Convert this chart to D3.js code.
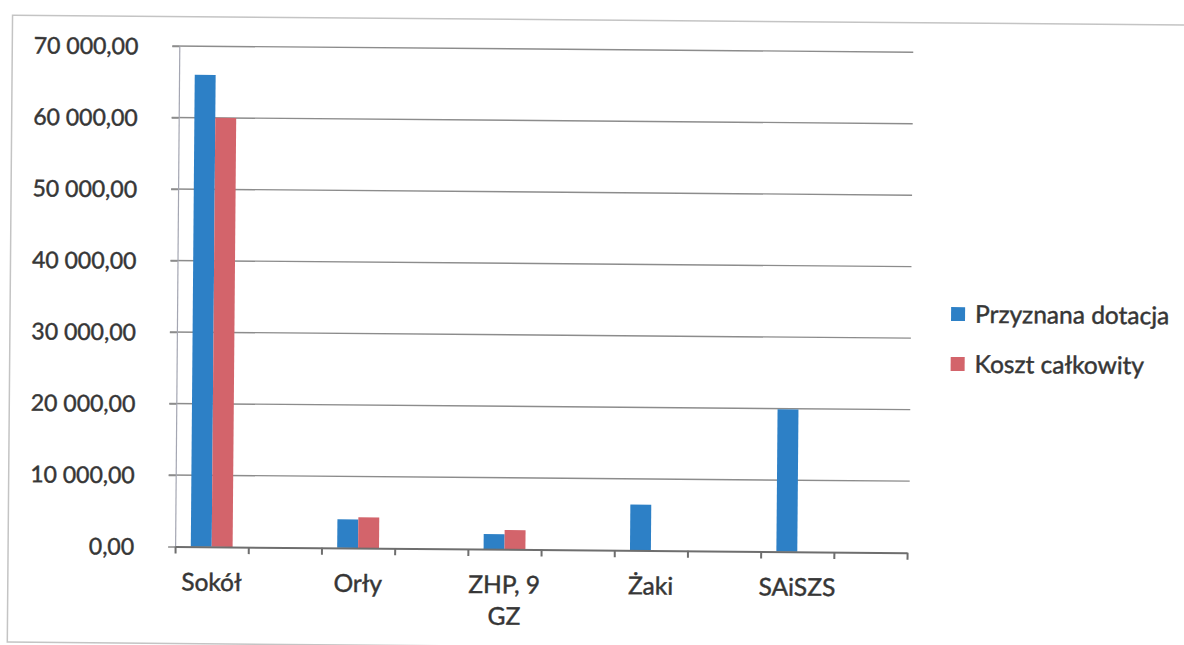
<!DOCTYPE html>
<html>
<head>
<meta charset="utf-8">
<script src="https://cdn.jsdelivr.net/npm/d3@7"></script>
<style>
  html, body { margin: 0; padding: 0; background: #fff; }
  svg { display: block; }
  text { font-family: Lato, "Open Sans", sans-serif; fill: #363636; stroke: #363636; stroke-width: 0.45px; }
</style>
</head>
<body>
<svg id="chart" width="1184" height="645"></svg>
<script>
// ---- data ----
const categories = ["Sokół", "", "Orły", "", "ZHP, 9 GZ", "", "Żaki", "", "SAiSZS", ""];
const seriesNames = ["Przyznana dotacja", "Koszt całkowity"];
const przyznanaDotacja = [66000, null, 4000, null, 2100, null, 6400, null, 19900, null];
const kosztCalkowity = [60000, null, 4300, null, 2700, null, null, null, null, null];
const yTicks = [0, 10000, 20000, 30000, 40000, 50000, 60000, 70000];
const seriesColors = ["#2d80c6", "#d3646b"];

// ---- layout ----
const plot = { left: 177, right: 909, top: 49.5, bottom: 550 };

const svg = d3.select("#chart");
const g = svg.append("g").attr("transform", "rotate(0.48, 592, 322)");

// outer chart border
g.append("rect")
  .attr("x", 10).attr("y", 20).attr("width", 1200).attr("height", 627)
  .attr("fill", "none").attr("stroke", "#c4c4c4").attr("stroke-width", 1.5);

const x = d3.scaleBand().domain(d3.range(categories.length))
  .range([plot.left, plot.right]).paddingInner(0).paddingOuter(0);
const xEdge = d3.scaleLinear().domain([0, categories.length]).range([plot.left, plot.right]);
const y = d3.scaleLinear().domain([0, 70000]).range([plot.bottom, plot.top]);

const locale = d3.formatLocale({ decimal: ",", thousands: "\u00a0", grouping: [3], currency: ["", " zł"] });
const fmt = locale.format(",.2f");

// gridlines
g.append("g").selectAll("line").data(yTicks.filter(d => d > 0)).join("line")
  .attr("x1", plot.left - 7).attr("x2", plot.right + 2)
  .attr("y1", d => y(d)).attr("y2", d => y(d))
  .attr("stroke", "#8c8c8c").attr("stroke-width", 1.4);

// y axis
const yAxis = g.append("g").attr("transform", `translate(${plot.left},0)`)
  .call(d3.axisLeft(y).tickValues(yTicks).tickFormat(fmt).tickSizeInner(7).tickSizeOuter(0).tickPadding(34));
yAxis.select(".domain").attr("stroke", "#a4a6b2").attr("stroke-width", 1.2);
yAxis.selectAll(".tick line").attr("stroke", "#8c8c8c").attr("stroke-width", 1.4);
yAxis.selectAll(".tick text").attr("font-size", 23).attr("font-family", "Lato, sans-serif")
  .attr("fill", "#363636").attr("dy", "0.35em");

// bars
const inner = d3.scaleBand().domain([0, 1]).range([0, x.bandwidth()]).paddingOuter(0.75).paddingInner(0);
const seriesData = [przyznanaDotacja, kosztCalkowity];
seriesData.forEach((vals, si) => {
  g.append("g").selectAll("rect")
    .data(vals.map((v, i) => ({ v, i })).filter(d => d.v != null))
    .join("rect")
    .attr("x", d => x(d.i) + inner(si))
    .attr("width", inner.bandwidth())
    .attr("y", d => y(d.v))
    .attr("height", d => y(0) - y(d.v))
    .attr("fill", seriesColors[si]);
});

// x axis (category boundary ticks)
const xAxis = g.append("g").attr("transform", `translate(0,${plot.bottom})`)
  .call(d3.axisBottom(xEdge).tickValues(d3.range(categories.length + 1)).tickFormat("").tickSizeInner(7).tickSizeOuter(0));
xAxis.select(".domain").attr("stroke", "#6e6e6e").attr("stroke-width", 2);
xAxis.selectAll(".tick line").attr("stroke", "#6e6e6e").attr("stroke-width", 2);

// category labels (wrapped like the spreadsheet does)
const maxLabelW = x.bandwidth() * 1.3;
const labels = g.append("g").selectAll("text")
  .data(categories.map((c, i) => ({ c, i })).filter(d => d.c !== ""))
  .join("text")
  .attr("x", d => x(d.i) + x.bandwidth() / 2)
  .attr("y", 594)
  .attr("text-anchor", "middle")
  .attr("font-size", 24.5);
labels.each(function (d) {
  const t = d3.select(this);
  const words = d.c.split(" ");
  let line = [], lines = [];
  const probe = t.append("tspan");
  words.forEach(w => {
    const test = line.concat([w]).join(" ");
    probe.text(test);
    if (probe.node().getComputedTextLength() > maxLabelW && line.length) {
      lines.push(line.join(" "));
      line = [w];
    } else line.push(w);
  });
  lines.push(line.join(" "));
  probe.remove();
  lines.forEach((l, k) => {
    t.append("tspan").attr("x", x(d.i) + x.bandwidth() / 2).attr("dy", k === 0 ? 0 : 31.5).text(l);
  });
});

// legend
const legend = g.append("g").attr("transform", "translate(951,311)");
seriesNames.forEach((name, i) => {
  const row = legend.append("g").attr("transform", `translate(0,${i * 50})`);
  row.append("rect").attr("x", 0).attr("y", -7).attr("width", 14).attr("height", 14).attr("fill", seriesColors[i]);
  row.append("text").attr("x", 24).attr("y", 0).attr("dy", "0.35em")
    .attr("font-size", 24.5).text(name);
});
</script>
</body>
</html>
